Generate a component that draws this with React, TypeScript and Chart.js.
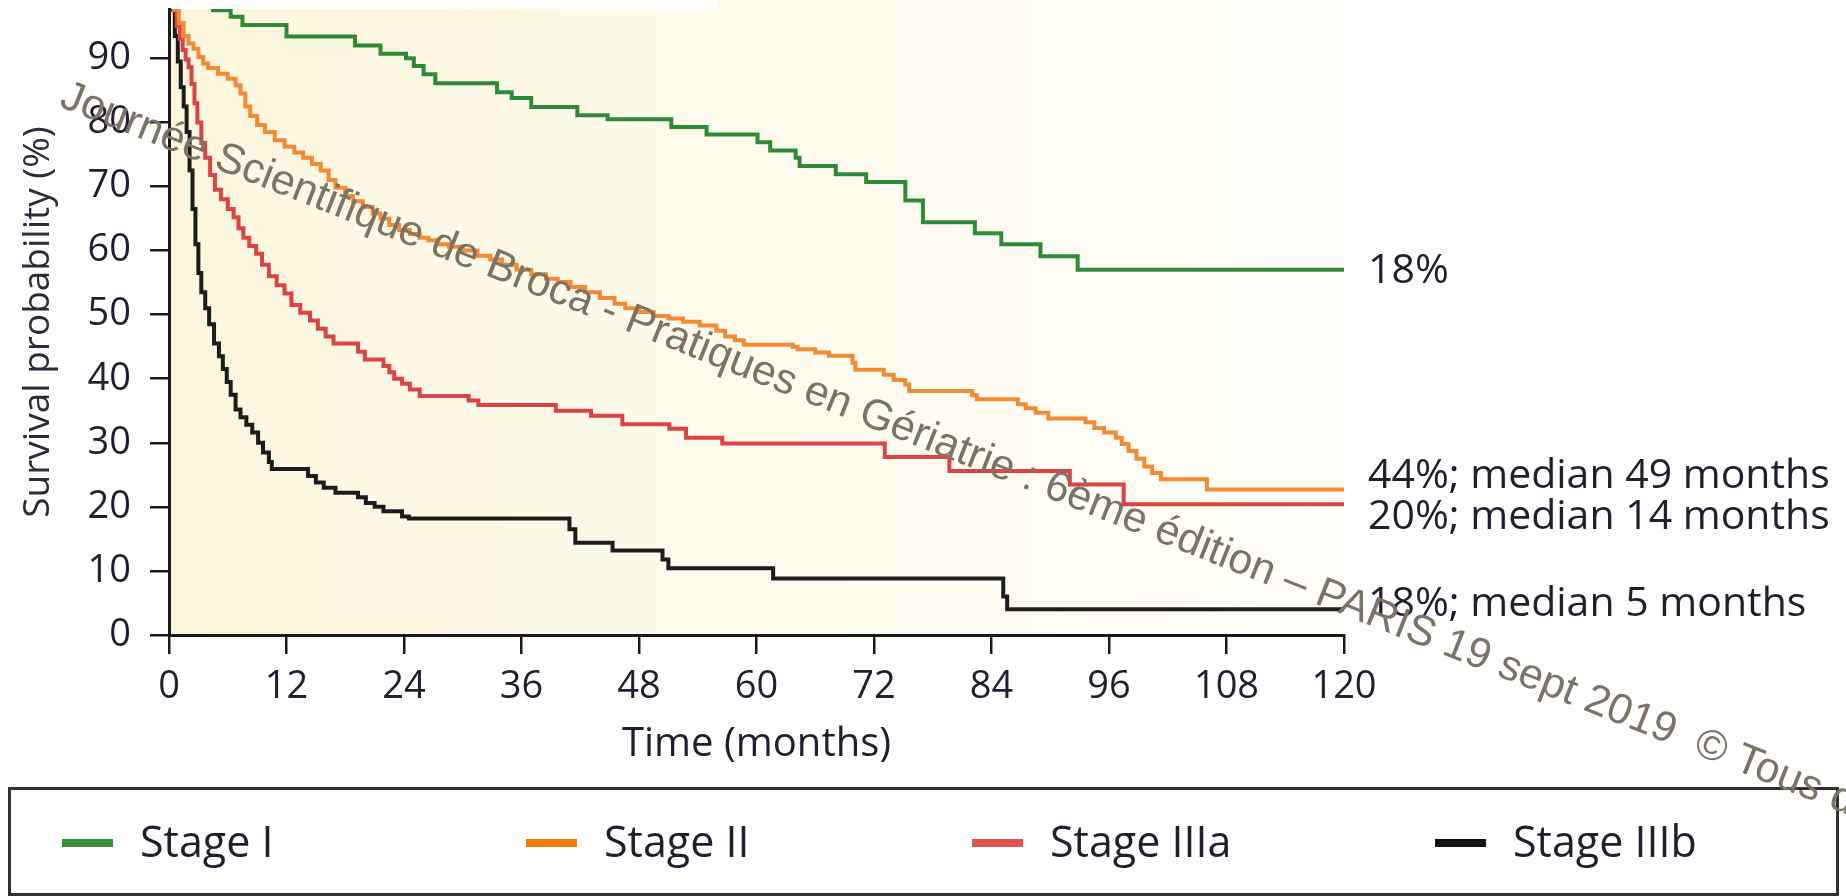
import React, { useEffect, useRef } from 'react';
import { Chart, registerables } from 'chart.js';

Chart.register(...registerables);

// ---------- data ----------
const seriesLabels = ['Stage I', 'Stage II', 'Stage IIIa', 'Stage IIIb'];
const seriesColors = ['#2f8a36', '#f58a32', '#dd4343', '#1c1c1c'];
const legendColors = ['#3b8f3b', '#ef7f0a', '#e05353', '#121212'];

const stageITimes = [0, 2.5, 4.5, 6.3, 7.5, 12.0, 19.0, 21.6, 24.2, 25.0, 26.0, 27.2, 33.5, 35.0, 37.0, 41.7, 44.8, 51.3, 54.9, 60.1, 61.4, 64.0, 64.4, 68.1, 71.2, 75.2, 77.0, 82.3, 85.0, 89.0, 92.8, 120];
const stageIValues = [100, 99, 97.5, 96.5, 95.2, 93.4, 92.0, 90.7, 90.0, 88.8, 87.5, 86.1, 84.7, 83.8, 82.4, 81.1, 80.5, 79.3, 78.1, 76.9, 75.6, 74.5, 73.2, 71.9, 70.7, 67.8, 64.4, 62.7, 61.0, 59.1, 57.0, 57.0];

const stageIITimes = [0, 0.5, 1.0, 1.5, 2.0, 2.5, 3.0, 3.5, 4.0, 5.0, 6.0, 6.8, 7.3, 7.8, 8.3, 9.0, 9.8, 10.8, 11.8, 12.8, 13.7, 14.6, 15.5, 16.3, 17.0, 18.0, 18.8, 19.8, 20.8, 21.6, 22.5, 23.5, 24.6, 25.6, 26.5, 27.5, 28.6, 30.0, 31.5, 32.8, 34.0, 35.5, 37.0, 38.5, 39.7, 41.0, 42.5, 44.0, 45.5, 46.6, 48.0, 49.5, 51.0, 52.5, 54.2, 55.9, 56.8, 57.8, 58.7, 63.7, 64.2, 66.0, 67.4, 69.8, 70.1, 73.0, 74.0, 75.2, 75.6, 82.0, 82.5, 86.7, 87.5, 88.5, 89.8, 93.6, 94.5, 95.5, 96.7, 97.3, 98.0, 98.8, 99.6, 100.4, 101.3, 106.0, 120];
const stageIIValues = [100, 97.6, 95.5, 93.5, 92.3, 91.5, 90.2, 89.2, 88.5, 87.6, 86.8, 85.8, 84.5, 82.5, 81.0, 79.6, 78.5, 77.2, 76.2, 75.3, 74.5, 73.5, 72.5, 71.0, 69.8, 68.5, 67.7, 66.8, 65.8, 65.0, 64.0, 63.2, 62.6, 62.0, 61.6, 61.0, 60.6, 60.0, 59.2, 58.6, 57.8, 57.0, 56.3, 55.6, 55.1, 54.3, 53.5, 52.6, 51.7, 51.0, 50.4, 49.8, 49.4, 48.9, 48.3, 47.5, 46.6, 46.0, 45.3, 45.0, 44.6, 44.1, 43.6, 42.5, 41.4, 40.6, 39.8, 39.1, 38.1, 37.4, 36.8, 36.0, 35.4, 34.7, 33.8, 33.2, 32.3, 31.6, 30.8, 29.8, 28.7, 27.5, 26.3, 25.3, 24.3, 22.7, 22.7];

const stageIIIaTimes = [0, 0.5, 0.8, 1.1, 1.4, 1.7, 2.0, 2.3, 2.6, 2.9, 3.3, 3.7, 4.2, 4.7, 5.3, 6.0, 6.6, 7.1, 7.6, 8.2, 8.9, 9.5, 10.2, 11.0, 11.8, 12.5, 13.4, 14.4, 15.2, 16.0, 16.8, 19.3, 20.0, 21.9, 22.5, 23.0, 23.8, 24.6, 25.6, 30.6, 31.6, 39.5, 43.1, 46.3, 51.1, 52.8, 56.5, 73.1, 79.7, 92.0, 97.5, 120];
const stageIIIaValues = [100, 97.6, 95.0, 93.0, 91.3, 89.8, 88.6, 86.0, 83.0, 80.0, 76.8, 74.5, 71.8, 69.5, 68.0, 66.5, 65.2, 63.5, 62.0, 60.7, 59.5, 57.8, 56.0, 54.6, 53.3, 51.5, 50.3, 49.1, 47.8, 46.6, 45.5, 44.2, 43.0, 42.0, 41.0, 40.0, 39.2, 38.3, 37.3, 36.6, 35.9, 35.0, 34.2, 32.9, 32.2, 30.8, 29.9, 27.8, 25.6, 23.5, 20.4, 20.4];

const stageIIIbTimes = [0, 0.3, 0.6, 0.9, 1.2, 1.5, 1.8, 2.1, 2.4, 2.7, 3.0, 3.3, 3.7, 4.1, 4.6, 5.1, 5.5, 5.9, 6.3, 6.8, 7.3, 7.9, 8.5, 9.1, 9.6, 10.2, 10.5, 14.2, 15.0, 15.8, 17.0, 19.3, 20.1, 21.0, 21.9, 23.8, 24.5, 40.9, 41.5, 45.3, 50.4, 51.0, 61.7, 85.2, 85.6, 120];
const stageIIIbValues = [100, 97.6, 93.5, 89.5, 85.5, 82.5, 78.5, 72.5, 66.5, 61.0, 56.5, 53.5, 51.0, 48.5, 45.5, 43.5, 41.5, 39.5, 37.5, 35.2, 34.0, 32.8, 31.6, 30.0, 28.5, 27.0, 25.9, 24.8, 23.8, 23.0, 22.2, 21.5, 20.6, 20.0, 19.3, 18.5, 18.2, 16.5, 14.4, 13.2, 11.8, 10.4, 8.8, 6.0, 4.0, 4.0];

const seriesTimes = [stageITimes, stageIITimes, stageIIIaTimes, stageIIIbTimes];
const seriesValues = [stageIValues, stageIIValues, stageIIIaValues, stageIIIbValues];

const endLabels = ['18%', '44%; median 49 months', '20%; median 14 months', '18%; median 5 months'];
const endLabelValues = [56.8, 24.8, 18.3, 4.8];

const xTicks = [0, 12, 24, 36, 48, 60, 72, 84, 96, 108, 120];
const yTicks = [0, 10, 20, 30, 40, 50, 60, 70, 80, 90];

const xTitle = 'Time (months)';
const yTitle = 'Survival probability (%)';
const watermark = 'Journée Scientifique de Broca - Pratiques en Gériatrie : 6ème édition – PARIS 19 sept 2019  © Tous droits réservés';

const FONT = '"Open Sans", "Noto Sans", sans-serif';
const TEXT = '#1f1f2e';

const decorPlugin = {
  id: 'decor',
  beforeDraw(chart: any) {
    const { ctx, chartArea } = chart;
    const { left, right, top, bottom } = chartArea;
    ctx.save();
    const g = ctx.createLinearGradient(left, 0, right, 0);
    g.addColorStop(0, '#fcf6de');
    g.addColorStop(0.5, '#fefbed');
    g.addColorStop(1, '#fffef9');
    ctx.fillStyle = g;
    ctx.fillRect(left, top, right - left, bottom - top);
    ctx.fillRect(718, 0, right - 718, top);
    ctx.restore();
  },
  afterDraw(chart: any) {
    const { ctx, chartArea } = chart;
    const yScale = chart.scales.y;
    ctx.save();
    // end labels
    ctx.font = `41px ${FONT}`;
    ctx.fillStyle = TEXT;
    ctx.textAlign = 'left';
    ctx.textBaseline = 'middle';
    endLabels.forEach((t, i) => {
      ctx.fillText(t, chartArea.right + 24, yScale.getPixelForValue(endLabelValues[i]));
    });
    // legend box
    ctx.strokeStyle = '#303030';
    ctx.lineWidth = 3;
    ctx.strokeRect(9.5, 788.5, 1828, 106);
    const itemX = [62, 526, 972, 1435];
    ctx.font = `43px ${FONT}`;
    ctx.textBaseline = 'alphabetic';
    seriesLabels.forEach((lab, i) => {
      ctx.fillStyle = legendColors[i];
      ctx.fillRect(itemX[i], 839, 51, 8);
      ctx.fillStyle = TEXT;
      ctx.fillText(lab, itemX[i] + 78, 857);
    });
    // watermark
    ctx.translate(58, 106);
    ctx.rotate((21.6 * Math.PI) / 180);
    ctx.font = '42.7px "Liberation Sans", Arial, sans-serif';
    ctx.fillStyle = '#7b7366';
    ctx.textBaseline = 'alphabetic';
    ctx.fillText(watermark, 0, 0);
    ctx.restore();
  },
};

export default function App() {
  const ref = useRef<HTMLCanvasElement | null>(null);
  useEffect(() => {
    if (!ref.current) return;
    const datasets = seriesLabels.map((label, i) => ({
      label,
      data: seriesTimes[i].map((t, j) => ({ x: t, y: seriesValues[i][j] })),
      borderColor: seriesColors[i],
      backgroundColor: seriesColors[i],
      borderWidth: 4,
      stepped: 'before' as const,
      pointRadius: 0,
      fill: false,
    }));
    const tickGrid = {
      display: true,
      drawOnChartArea: false,
      drawTicks: true,
      tickLength: 19,
      color: '#1a1a1a',
      lineWidth: 2.5,
    };
    const chart = new Chart(ref.current, {
      type: 'line',
      data: { datasets },
      plugins: [decorPlugin],
      options: {
        animation: false,
        responsive: false,
        events: [],
        layout: { padding: { left: 0, right: 502, top: 9, bottom: 0 } },
        plugins: { legend: { display: false }, tooltip: { enabled: false } },
        scales: {
          x: {
            type: 'linear',
            min: 0,
            max: 120,
            afterBuildTicks: (s: any) => {
              s.ticks = xTicks.map((v) => ({ value: v }));
            },
            afterFit: (s: any) => {
              s.height = 261;
              s.paddingLeft = 0;
              s.paddingRight = 0;
            },
            grid: tickGrid,
            border: { display: true, color: '#1a1a1a', width: 3 },
            ticks: {
              font: { family: FONT, size: 38 },
              color: TEXT,
              padding: 10,
              maxRotation: 0,
              autoSkip: false,
            },
            title: {
              display: true,
              text: xTitle,
              color: TEXT,
              font: { family: FONT, size: 40 },
              padding: { top: 0, bottom: 127 },
            },
          },
          y: {
            type: 'linear',
            min: 0,
            max: 97.7,
            afterBuildTicks: (s: any) => {
              s.ticks = yTicks.map((v) => ({ value: v }));
            },
            afterFit: (s: any) => {
              s.width = 169;
              s.paddingTop = 0;
              s.paddingBottom = 0;
            },
            grid: tickGrid,
            border: { display: true, color: '#1a1a1a', width: 3 },
            ticks: {
              font: { family: FONT, size: 38 },
              color: TEXT,
              padding: 19,
              autoSkip: false,
            },
            title: {
              display: true,
              text: yTitle,
              color: '#2a2a3a',
              font: { family: FONT, size: 37 },
              padding: { top: 16, bottom: 0 },
            },
          },
        },
      },
    });
    return () => chart.destroy();
  }, []);
  return (
    <div style={{ position: 'absolute', left: 0, top: 0, width: 1846, height: 896, background: '#ffffff' }}>
      <canvas ref={ref} width={1846} height={896} style={{ display: 'block', width: 1846, height: 896 }} />
    </div>
  );
}
